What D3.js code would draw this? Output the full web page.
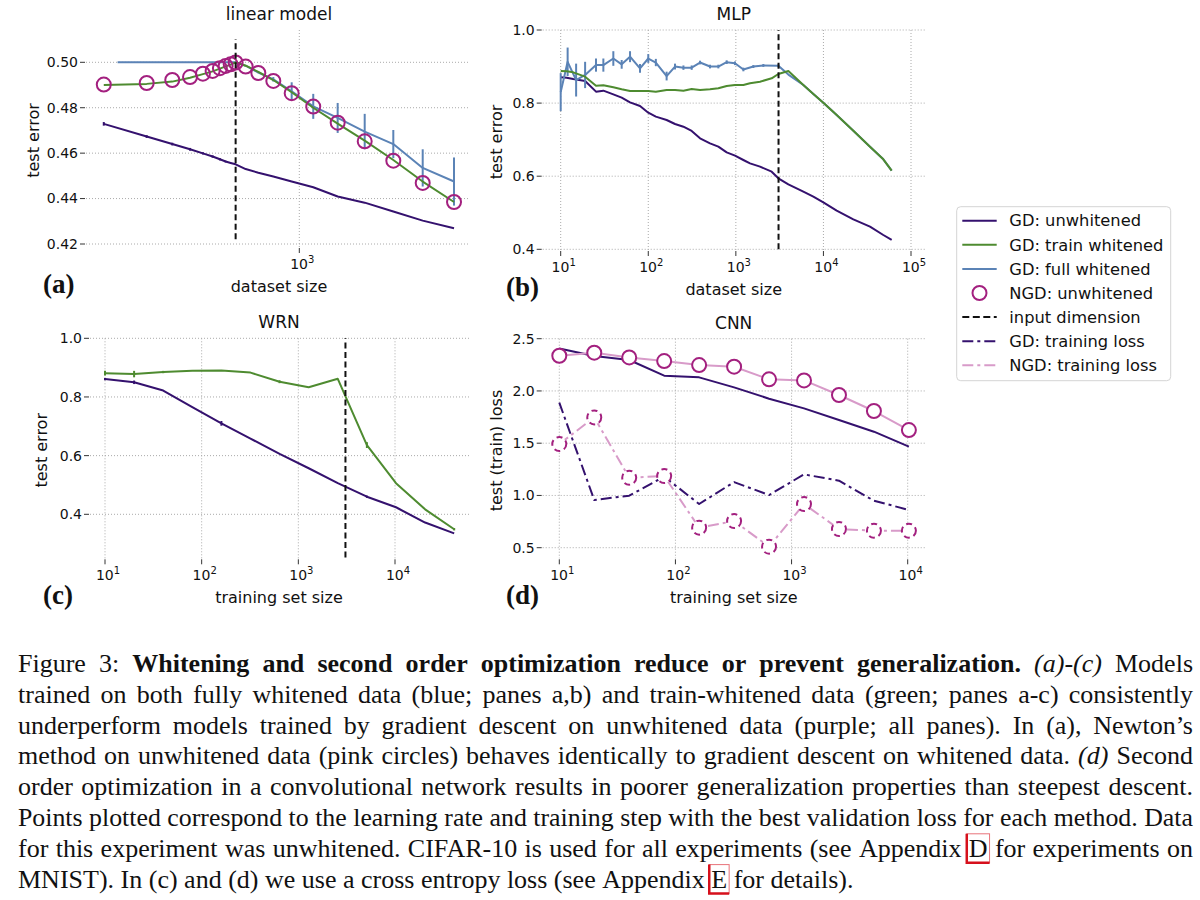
<!DOCTYPE html>
<html>
<head>
<meta charset="utf-8">
<script src="https://cdn.jsdelivr.net/npm/d3@7"></script>
<style>
  body { margin: 0; background: #fff; }
  svg text { font-family: "DejaVu Sans", sans-serif; fill: #111; }
</style>
</head>
<body>
<script>
// ---- panel (a): linear model ----
var linSizes = [128, 201, 263, 317, 363, 402, 434, 461, 486, 512, 569, 650, 761, 923, 1158, 1497, 1989, 2687, 3660, 5087];
var linGD = [0.4729, 0.4673, 0.4640, 0.4617, 0.4599, 0.4585, 0.4573, 0.4563, 0.4557, 0.4551, 0.4530, 0.4514, 0.4497, 0.4475, 0.4450, 0.4409, 0.4382, 0.4343, 0.4303, 0.4269];
var linGDErr = [0.0008, 0.0006, 0.0006, 0.0006, 0.0005, 0.0005, 0.0005, 0.0004, 0, 0, 0, 0, 0, 0, 0, 0, 0, 0, 0, 0];
var linTrainW = [0.4900, 0.4905, 0.4915, 0.4932, 0.4948, 0.4960, 0.4972, 0.4982, 0.4990, 0.5000, 0.4985, 0.4958, 0.4922, 0.4868, 0.4800, 0.4730, 0.4655, 0.4570, 0.4475, 0.4385];
var linNGD = [0.4902, 0.4909, 0.4922, 0.4935, 0.4950, 0.4962, 0.4974, 0.4984, 0.4991, 0.4999, 0.4981, 0.4953, 0.4918, 0.4864, 0.4805, 0.4734, 0.4652, 0.4567, 0.4469, 0.4385];
var linFullSizes = [148, 201, 263, 317, 363, 402, 434, 461, 486, 512, 569, 650, 761, 923, 1158, 1497, 1989, 2687, 3660, 5087];
var linFullW = [0.5, 0.5, 0.5, 0.5, 0.5, 0.5, 0.5, 0.5, 0.5, 0.5, 0.4985, 0.4955, 0.4925, 0.4872, 0.4806, 0.4755, 0.4695, 0.4640, 0.4535, 0.4475];
var linFullErr = [0, 0, 0, 0, 0, 0, 0, 0, 0, 0, 0, 0, 0.001, 0.004, 0.0055, 0.0066, 0.0078, 0.0062, 0.0082, 0.0106];
var linInputDim = 512;
var linDimSpan = [0.4221, 0.5101];

// ---- panel (b): MLP ----
var mlpSizes = [10, 11.7, 13.9, 19, 25.3, 30.7, 39.9, 49.7, 61.9, 80.5, 100, 122, 162, 202, 252, 313, 390, 507, 631, 786, 978, 1218, 1451, 1888, 2566, 3057, 3977, 5898, 7672, 9977, 14170, 21960, 34030, 48300, 60160];
var mlpGD = [0.8705, 0.8696, 0.8659, 0.8605, 0.8313, 0.8340, 0.8240, 0.8149, 0.8021, 0.7921, 0.7738, 0.7629, 0.7538, 0.7428, 0.7355, 0.7237, 0.7036, 0.6899, 0.6808, 0.6653, 0.6562, 0.6443, 0.6352, 0.6261, 0.6124, 0.5942, 0.5778, 0.5577, 0.5440, 0.5285, 0.5057, 0.4820, 0.4619, 0.4391, 0.4255];
var mlpTrainW = [0.8878, 0.8869, 0.8842, 0.8723, 0.8477, 0.8486, 0.8431, 0.8377, 0.8331, 0.8331, 0.8331, 0.8313, 0.8359, 0.8359, 0.8340, 0.8386, 0.8359, 0.8377, 0.8404, 0.8468, 0.8495, 0.8495, 0.8541, 0.8586, 0.8678, 0.8796, 0.8878, 0.8495, 0.8249, 0.8012, 0.7674, 0.7246, 0.6808, 0.6462, 0.6151];
var mlpFullSizes = [10, 12, 15, 19, 25.3, 30.7, 39.9, 49.7, 61.9, 80.5, 100, 122, 162, 202, 252, 313, 390, 507, 631, 786, 978, 1218, 1584, 2061, 3057, 3977, 5898, 7672, 9977, 14170, 21960, 34030, 48300, 60160];
var mlpFullW = [0.830, 0.913, 0.863, 0.877, 0.904, 0.904, 0.922, 0.906, 0.927, 0.895, 0.922, 0.911, 0.874, 0.900, 0.897, 0.897, 0.911, 0.900, 0.900, 0.912, 0.909, 0.892, 0.900, 0.903, 0.902, 0.878, 0.8495, 0.8249, 0.8012, 0.7674, 0.7246, 0.6808, 0.6462, 0.6151];
var mlpFullErr = [0.052, 0.039, 0.045, 0.036, 0.018, 0.018, 0.02, 0.012, 0.015, 0.012, 0.012, 0.01, 0.012, 0.008, 0.006, 0.006, 0.005, 0.005, 0.005, 0.005, 0.005, 0.005, 0.004, 0.004, 0.004, 0, 0, 0, 0, 0, 0, 0, 0, 0];
var mlpInputDim = 3072;

// ---- panel (c): WRN ----
var wrnSizes = [10, 20, 40, 80, 160, 320, 640, 1280, 2560, 5120, 10240, 20480, 40960];
var wrnGD = [0.861, 0.850, 0.822, 0.765, 0.710, 0.658, 0.606, 0.557, 0.506, 0.460, 0.424, 0.372, 0.335];
var wrnGDErr = [0.004, 0.006, 0, 0, 0.008, 0, 0, 0, 0, 0.004, 0, 0, 0];
var wrnTrainW = [0.881, 0.878, 0.885, 0.889, 0.890, 0.883, 0.852, 0.833, 0.862, 0.636, 0.506, 0.417, 0.349];
var wrnTrainWErr = [0.008, 0.011, 0.004, 0, 0, 0, 0.005, 0, 0, 0.01, 0, 0, 0.004];
var wrnInputDim = 3072;

// ---- panel (d): CNN ----
var cnnSizes = [10, 20, 40, 80, 160, 320, 640, 1280, 2560, 5120, 10240];
var cnnGDTest = [2.407, 2.334, 2.296, 2.146, 2.130, 2.034, 1.926, 1.833, 1.722, 1.610, 1.467];
var cnnNGDTest = [2.337, 2.366, 2.321, 2.286, 2.248, 2.232, 2.111, 2.101, 1.961, 1.808, 1.626];
var cnnGDTrain = [1.888, 0.956, 0.998, 1.180, 0.918, 1.128, 1.004, 1.202, 1.141, 0.950, 0.861];
var cnnNGDTrain = [1.492, 1.747, 1.170, 1.186, 0.692, 0.755, 0.510, 0.918, 0.679, 0.663, 0.663];

// ---- legend ----
var legendItems = ["GD: unwhitened", "GD: train whitened", "GD: full whitened", "NGD: unwhitened", "input dimension", "GD: training loss", "NGD: training loss"];

// ---- caption ----
var captionLines = [
  [["Figure 3:", "n"], ["Whitening and second order optimization reduce or prevent generalization.", "b"], ["(a)-(c)", "i"], ["Models", "n"]],
  [["trained on both fully whitened data (blue; panes a,b) and train-whitened data (green; panes a-c) consistently", "n"]],
  [["underperform models trained by gradient descent on unwhitened data (purple; all panes). In (a), Newton\u2019s", "n"]],
  [["method on unwhitened data (pink circles) behaves identically to gradient descent on whitened data.", "n"], ["(d)", "i"], ["Second", "n"]],
  [["order optimization in a convolutional network results in poorer generalization properties than steepest descent.", "n"]],
  [["Points plotted correspond to the learning rate and training step with the best validation loss for each method. Data", "n"]],
  [["for this experiment was unwhitened. CIFAR-10 is used for all experiments (see Appendix", "n"], ["D", "box"], ["for experiments on", "n"]],
  [["MNIST). In (c) and (d) we use a cross entropy loss (see Appendix", "n"], ["E", "box"], ["for details).", "n"]]
];

var PURPLE = "#34116e", GREEN = "#4e8b30", BLUE = "#5b83b6", MAGENTA = "#a3207f", PINK = "#d89bc9";

var svg = d3.select("body").append("svg")
    .attr("width", 1200)
    .attr("height", 900);

function zip(xs, ys){ return xs.map(function(d, i){ return [d, ys[i]]; }); }

function drawPanel(p){
    var g = svg.append("g");
    var x = p.x, y = p.y, b = p.box;

    // grid
    g.selectAll(".hg").data(p.yTicks).enter().append("line")
        .attr("x1", b.x0).attr("x2", b.x1)
        .attr("y1", function(d){ return y(d); }).attr("y2", function(d){ return y(d); })
        .attr("stroke", "#aaa").attr("stroke-width", 1).attr("stroke-dasharray", "1,2");
    g.selectAll(".vg").data(p.xTicks).enter().append("line")
        .attr("x1", function(d){ return x(d); }).attr("x2", function(d){ return x(d); })
        .attr("y1", b.y0).attr("y2", b.y1)
        .attr("stroke", "#aaa").attr("stroke-width", 1).attr("stroke-dasharray", "1,2");

    // y ticks
    g.selectAll(".yt").data(p.yTicks).enter().append("line")
        .attr("x1", b.x0 - 6).attr("x2", b.x0 - 1)
        .attr("y1", function(d){ return y(d); }).attr("y2", function(d){ return y(d); })
        .attr("stroke", "#333").attr("stroke-width", 1);
    g.selectAll(".yl").data(p.yTicks).enter().append("text")
        .attr("x", b.x0 - 8).attr("y", function(d){ return y(d); })
        .attr("dy", "0.35em").attr("text-anchor", "end")
        .style("font-size", "14px")
        .text(d3.format(p.yFmt));

    // x ticks
    g.selectAll(".xt").data(p.xTicks).enter().append("line")
        .attr("x1", function(d){ return x(d); }).attr("x2", function(d){ return x(d); })
        .attr("y1", b.y1 + 1).attr("y2", b.y1 + 6)
        .attr("stroke", "#333").attr("stroke-width", 1);
    var xl = g.selectAll(".xl").data(p.xTicks).enter().append("text")
        .attr("x", function(d){ return x(d) + 3; }).attr("y", b.y1 + 22)
        .attr("text-anchor", "middle")
        .style("font-size", "14px");
    xl.append("tspan").text("10");
    xl.append("tspan").attr("dy", -6).style("font-size", "10px")
        .text(function(d){ return Math.round(Math.log10(d)); });

    // labels
    g.append("text").attr("x", (b.x0 + b.x1) / 2 + p.titleDx).attr("y", b.y0 - 10)
        .attr("text-anchor", "middle").style("font-size", "17px").text(p.title);
    g.append("text").attr("x", (b.x0 + b.x1) / 2 + p.titleDx).attr("y", b.y1 + 45)
        .attr("text-anchor", "middle").style("font-size", "16px").text(p.xLabel);
    g.append("text")
        .attr("transform", "translate(" + p.yLabelX + "," + ((b.y0 + b.y1) / 2 + 2) + ") rotate(-90)")
        .attr("text-anchor", "middle").attr("dy", "0.35em")
        .style("font-size", "16px").text(p.yLabel);
    g.append("text").attr("x", p.tagX).attr("y", b.y1 + 46)
        .style("font-family", "'Liberation Serif', 'Times New Roman', serif")
        .style("font-weight", "bold").style("font-size", "27px").text(p.tag);

    var line = d3.line().x(function(d){ return x(d[0]); }).y(function(d){ return y(d[1]); });

    p.series.forEach(function(s){
        if (s.line !== false){
            g.append("path").datum(zip(s.xs, s.ys))
                .attr("d", line).attr("fill", "none")
                .attr("stroke", s.color).attr("stroke-width", s.width || 2)
                .attr("stroke-dasharray", s.dash || null)
                .attr("stroke-linejoin", "round");
        }
        if (s.err){
            g.selectAll(null).data(zip(s.xs, s.ys).map(function(d, i){ return [d[0], d[1], s.err[i]]; })
                    .filter(function(d){ return d[2] > 0; }))
                .enter().append("line")
                .attr("x1", function(d){ return x(d[0]); }).attr("x2", function(d){ return x(d[0]); })
                .attr("y1", function(d){ return y(d[1] - d[2]); }).attr("y2", function(d){ return y(d[1] + d[2]); })
                .attr("stroke", s.color).attr("stroke-width", 2);
        }
        if (s.marker){
            g.selectAll(null).data(zip(s.xs, s.ys)).enter().append("circle")
                .attr("cx", function(d){ return x(d[0]); }).attr("cy", function(d){ return y(d[1]); })
                .attr("r", 7)
                .attr("fill", s.marker.fill).attr("stroke", MAGENTA).attr("stroke-width", 2)
                .attr("stroke-dasharray", s.marker.dash || null);
        }
    });

    if (p.dim){
        g.append("line")
            .attr("x1", x(p.dim)).attr("x2", x(p.dim))
            .attr("y1", y(p.dimSpan[0])).attr("y2", y(p.dimSpan[1]))
            .attr("stroke", "#111").attr("stroke-width", 2).attr("stroke-dasharray", "6,3.5");
    }
}

drawPanel({
    x: d3.scaleLog().domain([100, 1000]).range([80.3, 299.3]),
    y: d3.scaleLinear().domain([0.42, 0.50]).range([244, 62.3]),
    box: {x0: 86, x1: 470, y0: 30, y1: 247},
    xTicks: [1000], yTicks: [0.42, 0.44, 0.46, 0.48, 0.50], yFmt: ".2f",
    title: "linear model", xLabel: "dataset size", yLabel: "test error",
    titleDx: 1, yLabelX: 33, tagX: 43, tag: "(a)",
    dim: linInputDim, dimSpan: linDimSpan,
    series: [
        {xs: linSizes, ys: linGD, err: linGDErr, color: PURPLE},
        {xs: linFullSizes, ys: linFullW, err: linFullErr, color: BLUE},
        {xs: linSizes, ys: linTrainW, color: GREEN},
        {xs: linSizes, ys: linNGD, line: false, marker: {fill: "none"}}
    ]
});

drawPanel({
    x: d3.scaleLog().domain([10, 1e5]).range([560.7, 911]),
    y: d3.scaleLinear().domain([0.4, 1.0]).range([249.3, 30]),
    box: {x0: 542.7, x1: 926.7, y0: 30, y1: 250},
    xTicks: [10, 100, 1000, 1e4, 1e5], yTicks: [0.4, 0.6, 0.8, 1.0], yFmt: ".1f",
    title: "MLP", xLabel: "dataset size", yLabel: "test error",
    titleDx: -1, yLabelX: 496.7, tagX: 506, tag: "(b)",
    dim: mlpInputDim, dimSpan: [0.4, 1.0],
    series: [
        {xs: mlpSizes, ys: mlpGD, color: PURPLE},
        {xs: mlpFullSizes, ys: mlpFullW, err: mlpFullErr, color: BLUE},
        {xs: mlpSizes, ys: mlpTrainW, color: GREEN}
    ]
});

drawPanel({
    x: d3.scaleLog().domain([10, 1e4]).range([105, 395]),
    y: d3.scaleLinear().domain([0.4, 1.0]).range([514.3, 338.3]),
    box: {x0: 90, x1: 470, y0: 338.3, y1: 558.3},
    xTicks: [10, 100, 1000, 1e4], yTicks: [0.4, 0.6, 0.8, 1.0], yFmt: ".1f",
    title: "WRN", xLabel: "training set size", yLabel: "test error",
    titleDx: -1, yLabelX: 41.7, tagX: 43, tag: "(c)",
    dim: wrnInputDim, dimSpan: [0.253, 1.0],
    series: [
        {xs: wrnSizes, ys: wrnGD, err: wrnGDErr, color: PURPLE},
        {xs: wrnSizes, ys: wrnTrainW, err: wrnTrainWErr, color: GREEN}
    ]
});

drawPanel({
    x: d3.scaleLog().domain([10, 1e4]).range([559.3, 907.7]),
    y: d3.scaleLinear().domain([0.5, 2.5]).range([547.7, 338.7]),
    box: {x0: 542.7, x1: 926.7, y0: 338.7, y1: 558.3},
    xTicks: [10, 100, 1000, 1e4], yTicks: [0.5, 1.0, 1.5, 2.0, 2.5], yFmt: ".1f",
    title: "CNN", xLabel: "training set size", yLabel: "test (train) loss",
    titleDx: -1, yLabelX: 496.7, tagX: 506, tag: "(d)",
    series: [
        {xs: cnnSizes, ys: cnnGDTest, color: PURPLE},
        {xs: cnnSizes, ys: cnnGDTrain, color: PURPLE, dash: "11,4,3,4"},
        {xs: cnnSizes, ys: cnnNGDTrain, color: PINK, dash: "11,4,3,4", marker: {fill: "white", dash: "6,4"}},
        {xs: cnnSizes, ys: cnnNGDTest, color: PINK, marker: {fill: "white"}}
    ]
});

// legend
var lg = svg.append("g");
lg.append("rect").attr("x", 956.7).attr("y", 206.7).attr("width", 214).attr("height", 174)
    .attr("rx", 4).attr("fill", "white").attr("stroke", "#d4d4d4").attr("stroke-width", 1);
var legendStyle = [
    {color: PURPLE}, {color: GREEN}, {color: BLUE}, {circle: true},
    {color: "#111", dash: "7,3.5"}, {color: PURPLE, dash: "11,4,3,4"}, {color: PINK, dash: "11,4,3,4"}
];
legendItems.forEach(function(name, i){
    var cy = 220.7 + i * 24.1;
    var st = legendStyle[i];
    if (st.circle){
        lg.append("circle").attr("cx", 979.5).attr("cy", cy).attr("r", 7)
            .attr("fill", "none").attr("stroke", MAGENTA).attr("stroke-width", 2);
    } else {
        lg.append("line").attr("x1", 962.3).attr("x2", 996.7).attr("y1", cy).attr("y2", cy)
            .attr("stroke", st.color).attr("stroke-width", 2).attr("stroke-dasharray", st.dash || null);
    }
    lg.append("text").attr("x", 1009.3).attr("y", cy).attr("dy", "0.35em")
        .style("font-size", "16.3px").text(name);
});

// caption, justified between two margins
var capFs = 26, capLeft = 18, capRight = 1193, capTop = 672, capLead = 30.8;
var capFont = "'Liberation Serif', 'Times New Roman', serif";
var cap = svg.append("g");

function styleWord(sel, f){
    sel.style("font-family", capFont).style("font-size", capFs + "px")
        .style("font-weight", f === "b" ? "bold" : "normal")
        .style("font-style", f === "i" ? "italic" : "normal");
}

var capWords = captionLines.map(function(segs){
    var words = [];
    segs.forEach(function(s){
        s[0].split(" ").forEach(function(w){
            if (!w) return;
            var t = cap.append("text").text(w);
            styleWord(t, s[1]);
            words.push({w: w, f: s[1], width: t.node().getComputedTextLength()});
            t.remove();
        });
    });
    return words;
});

var spaceW = 0.25 * capFs;
var target = capRight - capLeft;
// per line horizontal squeeze so that word gaps stay close to a normal space
var lineScale = capWords.map(function(words){
    var sum = d3.sum(words, function(d){ return d.width; });
    return Math.min(1, target / (sum + (words.length - 1) * spaceW));
});
var baseScale = d3.median(lineScale.slice(0, -1));

capWords.forEach(function(words, li){
    var last = li === capWords.length - 1;
    var sx = last ? baseScale : lineScale[li];
    var base = capTop + li * capLead;
    var sum = d3.sum(words, function(d){ return d.width; }) * sx;
    var gap = last ? spaceW * sx : (target - sum) / (words.length - 1);
    var cx = capLeft;
    words.forEach(function(d){
        var t = cap.append("text")
            .attr("transform", "translate(" + cx + "," + base + ") scale(" + sx + ",1)")
            .text(d.w);
        styleWord(t, d.f);
        if (d.f === "box"){
            var bw = d.width * sx + 4;
            cap.append("rect").attr("x", cx - 2).attr("y", base - 23)
                .attr("width", bw).attr("height", 29)
                .attr("fill", "none").attr("stroke", "#e8737a").attr("stroke-width", 1);
            cap.append("path")
                .attr("d", "M" + (cx - 2) + "," + (base - 23) + "V" + (base + 6) + "H" + (cx - 2 + bw))
                .attr("fill", "none").attr("stroke", "#d6101c").attr("stroke-width", 2.5);
        }
        cx += d.width * sx + gap;
    });
});
</script>
</body>
</html>
